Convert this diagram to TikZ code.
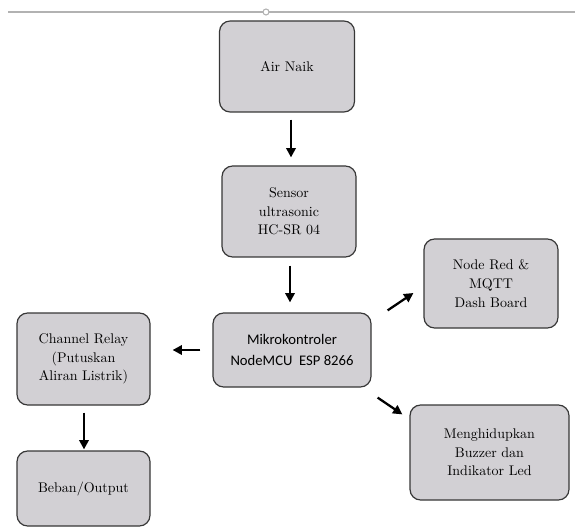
\documentclass[tikz,border=0pt]{standalone}
\usepackage{fontspec}
\newfontfamily\calibri{Carlito}
\usetikzlibrary{arrows.meta, positioning, calc}
\definecolor{boxgray}{RGB}{210,208,212}
\definecolor{boxline}{RGB}{55,55,55}
\tikzset{
  box/.style={draw=boxline, line width=0.9pt, rounded corners=8pt, fill=boxgray,
    align=center, inner sep=2pt, font=\fontsize{10.5}{14}\selectfont},
  arr/.style={-{Triangle[length=7pt, width=7pt]}, line width=1.7pt},
  frame/.style={draw=black!30, line width=0.8pt},
}
\begin{document}
\begin{tikzpicture}[x=0.75pt, y=-0.75pt]
  \useasboundingbox (0,0) rectangle (575,531);
  % garis bingkai atas
  \draw[frame] (8,12) -- (575,12);
  \draw[frame, fill=white] (266,12) circle (3);

  \node[box, minimum width=101.25pt, minimum height=68.25pt] (air) at (287,66.5) {Air Naik};
  \node[box, minimum width=100.5pt, minimum height=68.25pt] (sensor) at (289,211.5)
    {Sensor\\ultrasonic\\HC-SR 04};
  \node[box, minimum width=118.5pt, minimum height=55.5pt,
    font=\calibri\fontsize{11}{16}\selectfont] (mcu) at (292,350)
    {Mikrokontroler\\NodeMCU\ \ ESP 8266};
  \node[box, minimum width=99.75pt, minimum height=69pt] (relay) at (83.5,359)
    {Channel Relay\\(Putuskan\\Aliran Listrik)};
  \node[box, minimum width=99.75pt, minimum height=56.25pt] (beban) at (83.5,488.5) {Beban/Output};
  \node[box, minimum width=100.5pt, minimum height=66.75pt] (nodered) at (491,283.5)
    {Node Red \&\\MQTT\\Dash Board};
  \node[box, minimum width=119.25pt, minimum height=71.25pt] (buzzer) at (489.5,452.5)
    {Menghidupkan\\Buzzer dan\\Indikator Led};

  \draw[arr] ($(air.south)+(4,7)$) -- ($(sensor.north)+(2,-8)$);
  \draw[arr] ($(sensor.south)+(1,8)$) -- ($(mcu.north)+(-2,-10)$);
  \draw[arr] ($(mcu.west)+(-12,0)$) -- ($(relay.east)+(22,-9)$);
  \draw[arr] ($(relay.south)+(0.5,7)$) -- ($(beban.north)+(0.5,-1)$);
  \draw[arr] ($(mcu.north east)+(16,-2)$) -- ($(nodered.west)+(-10,9.5)$);
  \draw[arr] ($(mcu.south east)+(6,10)$) -- ($(buzzer.north west)+(-7,10)$);
\end{tikzpicture}
\end{document}
